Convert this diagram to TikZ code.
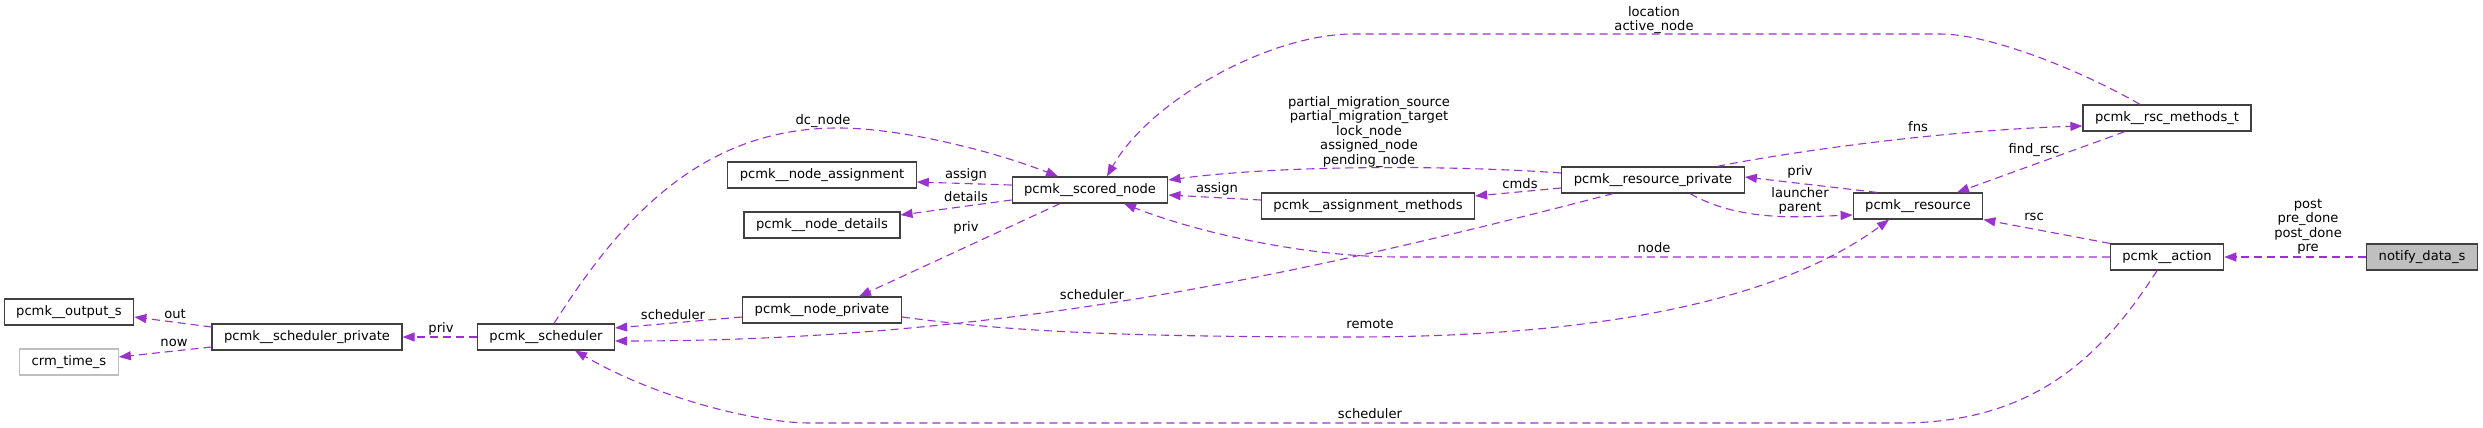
\documentclass[tikz,border=0pt]{standalone}
\usepackage{fontspec}
\setmainfont{DejaVu Sans}
\usepackage{tikz}
\usetikzlibrary{arrows.meta, calc}
\definecolor{EdgePurple}{HTML}{9A32CD}
\definecolor{BoxBorder}{HTML}{404040}
\definecolor{UndocGray}{HTML}{BFBFBF}
\definecolor{RootGray}{HTML}{BFBFBF}

\begin{document}
\begin{tikzpicture}[
    x=1pt, y=-1pt,
    every node/.style={font=\fontsize{13.1}{14.5}\selectfont, align=center},
    structbox/.style={rectangle, draw=BoxBorder, fill=white, line width=1.2pt, inner xsep=12pt, inner ysep=0pt, minimum height=26pt},
    undocbox/.style={structbox, draw=UndocGray},
    rootbox/.style={structbox, fill=RootGray},
    uses/.style={-{Triangle[length=12pt, width=9pt]}, draw=EdgePurple, line width=1.1pt, dash pattern=on 8pt off 5pt},
    lbl/.style={inner sep=0pt}
  ]
    \path[use as bounding box, fill=white] (0,0) rectangle (2483,428);

    % Left: scheduler side
    \node[structbox] (output_s) at (69,312) {pcmk\_\_output\_s};
    \node[undocbox] (time_s) at (69,362) {crm\_time\_s};
    \node[structbox] (sched_priv) at (307,337) {pcmk\_\_scheduler\_private};
    \node[structbox] (sched) at (546,337) {pcmk\_\_scheduler};

    % Middle: node structures
    \node[structbox] (node_assign) at (822,175) {pcmk\_\_node\_assignment};
    \node[structbox] (node_details) at (822,225) {pcmk\_\_node\_details};
    \node[structbox] (node_priv) at (822,310) {pcmk\_\_node\_private};
    \node[structbox] (scored) at (1090,190) {pcmk\_\_scored\_node};
    \node[structbox] (assign_meth) at (1368,206) {pcmk\_\_assignment\_methods};

    % Right: resources, actions and the root struct
    \node[structbox] (rsc_priv) at (1653,180) {pcmk\_\_resource\_private};
    \node[structbox] (rsc) at (1918,206) {pcmk\_\_resource};
    \node[structbox] (rsc_meth) at (2167,118) {pcmk\_\_rsc\_methods\_t};
    \node[structbox] (action) at (2167,257) {pcmk\_\_action};
    \node[rootbox] (notify) at (2422,257) {notify\_data\_s};

    % Connections
    \draw[uses] ([yshift=10pt]sched_priv.west) -- ([yshift=-5pt]output_s.east) node[lbl] at (175,314) {out};
    \draw[uses] ([yshift=-10pt]sched_priv.west) -- ([yshift=5pt]time_s.east) node[lbl] at (174,343) {now};
    \draw[uses] (sched.west) -- (sched_priv.east) node[lbl] at (441,329) {priv};
    \draw[uses] ([xshift=8pt]sched.north) .. controls (620,220) and (700,128) .. (838,128)
        .. controls (900,128) and (990,150) .. ([xshift=-32pt]scored.north) node[lbl] at (823,121) {dc\_node};
    \draw[uses] ([yshift=5pt]scored.west) -- ([yshift=-7pt]node_assign.east) node[lbl] at (966,175) {assign};
    \draw[uses] ([yshift=-10pt]scored.west) -- ([yshift=10pt]node_details.east) node[lbl] at (966,197) {details};
    \draw[uses] ([xshift=-30pt]scored.south) -- ([xshift=37pt]node_priv.north) node[lbl] at (966,228) {priv};
    \draw[uses] ([yshift=-7pt]node_priv.west) -- ([yshift=9pt]sched.east) node[lbl] at (673,315) {scheduler};
    \draw[uses] ([xshift=-40pt]rsc_priv.south) .. controls (1300,275) and (1000,341) .. ([yshift=-4pt]sched.east)
        node[lbl] at (1092,295) {scheduler};
    \draw[uses] ([yshift=-7pt]node_priv.east) .. controls (1000,330) and (1100,337) .. (1353,337)
        .. controls (1600,337) and (1780,300) .. ([xshift=-29pt]rsc.south) node[lbl] at (1370,324) {remote};
    \draw[uses] ([yshift=7pt]rsc_priv.west) .. controls (1450,165) and (1280,165) .. ([yshift=10pt]scored.east)
        node[lbl] at (1369,132) {partial\_migration\_source\\partial\_migration\_target\\lock\_node\\assigned\_node\\pending\_node};
    \draw[uses] ([yshift=6pt]assign_meth.west) -- ([yshift=-5pt]scored.east) node[lbl] at (1217,189) {assign};
    \draw[uses] ([yshift=-8pt]rsc_priv.west) -- ([yshift=10pt]assign_meth.east) node[lbl] at (1520,184) {cmds};
    \draw[uses] ([xshift=64pt]rsc_priv.north) .. controls (1800,150) and (1950,130) .. ([yshift=-8pt]rsc_meth.west)
        node[lbl] at (1918,127) {fns};
    \draw[uses] ([xshift=-41pt]rsc.north) -- ([yshift=3pt]rsc_priv.east) node[lbl] at (1800,172) {priv};
    \draw[uses] ([xshift=37pt]rsc_priv.south) .. controls (1740,222) and (1800,217) .. ([yshift=-9pt]rsc.west)
        node[lbl] at (1800,201) {launcher\\parent};
    \draw[uses] ([xshift=-27pt]rsc_meth.north) .. controls (2080,70) and (1990,34) .. (1940,34) -- (1353,34)
        .. controls (1270,34) and (1150,100) .. ([xshift=17pt]scored.north) node[lbl] at (1654,20) {location\\active\_node};
    \draw[uses] ([xshift=-42pt]rsc_meth.south) -- ([xshift=39pt]rsc.north) node[lbl] at (2034,150) {find\_rsc};
    \draw[uses] (action.north west) -- (rsc.south east) node[lbl] at (2034,217) {rsc};
    \draw[uses] (action.west) -- (1400,257) .. controls (1300,257) and (1190,230) .. ([xshift=34pt]scored.south)
        node[lbl] at (1654,248) {node};
    \draw[uses] ([xshift=-10pt]action.south) .. controls (2100,360) and (2030,423) .. (1900,423) -- (810,423)
        .. controls (760,423) and (660,400) .. ([xshift=29pt]sched.south) node[lbl] at (1370,414) {scheduler};
    \draw[uses] (notify.west) -- (action.east) node[lbl] at (2308,227) {post\\pre\_done\\post\_done\\pre};
  \end{tikzpicture}
\end{document}
